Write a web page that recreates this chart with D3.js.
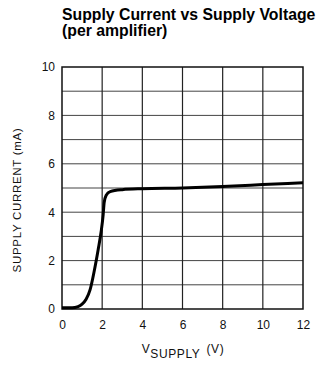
<!DOCTYPE html>
<html><head><meta charset="utf-8">
<script src="https://cdn.jsdelivr.net/npm/d3@7"></script>
<style>body{margin:0;background:#fff}svg{display:block}</style>
</head><body>
<script>
const titleLines = ["Supply Current vs Supply Voltage", "(per amplifier)"];
const xTicks = [0, 2, 4, 6, 8, 10, 12];
const yTicks = [0, 2, 4, 6, 8, 10];
const yGrid = [1, 2, 3, 4, 5, 6, 7, 8, 9];
const voltage = [0, 0.5, 0.8, 1.0, 1.2, 1.4, 1.6, 1.8, 1.95, 2.05, 2.1, 2.2, 2.4, 3, 4, 6, 8, 10, 12];
const current = [0.05, 0.05, 0.1, 0.2, 0.4, 0.8, 1.55, 2.45, 3.2, 3.9, 4.4, 4.7, 4.85, 4.93, 4.97, 5.0, 5.06, 5.14, 5.22];

const W = 321, H = 366;
const m = {left: 62, right: 303, top: 67, bottom: 309};
const svg = d3.select("body").append("svg").attr("width", W).attr("height", H);
const x = d3.scaleLinear().domain([0, 12]).range([m.left, m.right]);
const y = d3.scaleLinear().domain([0, 10]).range([m.bottom, m.top]);

svg.selectAll("text.title").data(titleLines).join("text")
  .attr("x", 62).attr("y", (d, i) => 20 + i * 16)
  .attr("font-family", "Liberation Sans, Arial, sans-serif")
  .attr("font-weight", "bold").attr("font-size", 15.8).attr("fill", "#000")
  .text(d => d);

// grid
svg.append("g").selectAll("line").data(yGrid).join("line")
  .attr("x1", m.left).attr("x2", m.right)
  .attr("y1", d => y(d)).attr("y2", d => y(d))
  .attr("stroke", "#444").attr("stroke-width", 1);
svg.append("g").selectAll("line").data(xTicks.slice(1, -1)).join("line")
  .attr("y1", m.top).attr("y2", m.bottom)
  .attr("x1", d => x(d)).attr("x2", d => x(d))
  .attr("stroke", "#222").attr("stroke-width", 1.2);

// frame
svg.append("rect").attr("x", m.left).attr("y", m.top)
  .attr("width", m.right - m.left).attr("height", m.bottom - m.top)
  .attr("fill", "none").attr("stroke", "#111").attr("stroke-width", 1.5);

// axes (tick labels only)
const xAxis = svg.append("g").attr("transform", `translate(0,${m.bottom})`)
  .call(d3.axisBottom(x).tickValues(xTicks).tickSize(0).tickPadding(11).tickFormat(d3.format("d")));
xAxis.select(".domain").remove();
const yAxis = svg.append("g").attr("transform", `translate(${m.left},0)`)
  .call(d3.axisLeft(y).tickValues(yTicks).tickSize(0).tickPadding(7).tickFormat(d3.format("d")));
yAxis.select(".domain").remove();
svg.selectAll(".tick text").attr("font-family", "Liberation Sans, Arial, sans-serif")
  .attr("font-size", 12).attr("fill", "#111");

// curve
const pts = voltage.map((v, i) => [v, current[i]]);
svg.append("path").datum(pts)
  .attr("d", d3.line().x(d => x(d[0])).y(d => y(d[1])).curve(d3.curveMonotoneX))
  .attr("fill", "none").attr("stroke", "#000").attr("stroke-width", 3)
  .attr("stroke-linejoin", "round");

// y label
svg.append("text").attr("transform", "translate(21,200) rotate(-90)")
  .attr("text-anchor", "middle")
  .attr("font-family", "Liberation Sans, Arial, sans-serif").attr("font-size", 11.5)
  .attr("letter-spacing", 0.7).attr("fill", "#111")
  .text("SUPPLY CURRENT (mA)");

// x label
const xl = svg.append("text").attr("x", 183).attr("y", 353).attr("text-anchor", "middle")
  .attr("font-family", "Liberation Sans, Arial, sans-serif").attr("font-size", 12)
  .attr("letter-spacing", 0.6).attr("fill", "#111");
xl.append("tspan").text("V");
xl.append("tspan").attr("dy", 5).text("SUPPLY");
xl.append("tspan").attr("dy", -5).attr("dx", 6).text("(V)");
</script>
</body></html>
